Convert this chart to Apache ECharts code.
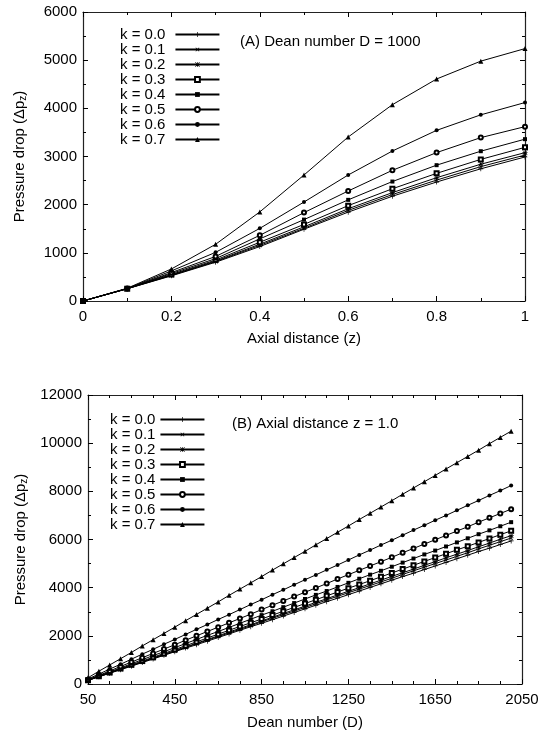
<!DOCTYPE html>
<html>
<head>
<meta charset="utf-8">
<script src="https://cdn.jsdelivr.net/npm/echarts@6/dist/echarts.min.js"></script>
<style>
  html, body { margin: 0; padding: 0; background: #fff; }
  #main { width: 543px; height: 734px; }
</style>
</head>
<body>
<div id="main"></div>
<script>
// legend names
let kNames = ['k = 0.0', 'k = 0.1', 'k = 0.2', 'k = 0.3', 'k = 0.4', 'k = 0.5', 'k = 0.6', 'k = 0.7']

// (A) Dean number D = 1000, pressure drop vs axial distance z
let zAxial = [0, 0.1, 0.2, 0.3, 0.4, 0.5, 0.6, 0.7, 0.8, 0.9, 1.0]
let axialK00 = [0, 254, 522, 805, 1130, 1490, 1845, 2175, 2470, 2745, 2990]
let axialK01 = [0, 255, 530, 818, 1155, 1510, 1880, 2210, 2510, 2790, 3030]
let axialK02 = [0, 255, 540, 830, 1180, 1540, 1915, 2250, 2560, 2840, 3080]
let axialK03 = [0, 256, 550, 850, 1220, 1590, 1980, 2330, 2650, 2940, 3190]
let axialK04 = [0, 257, 570, 880, 1290, 1690, 2100, 2480, 2820, 3110, 3360]
let axialK05 = [0, 258, 590, 925, 1364, 1835, 2284, 2713, 3081, 3392, 3620]
let axialK06 = [0, 260, 625, 1010, 1508, 2055, 2616, 3114, 3543, 3865, 4120]
let axialK07 = [0, 265, 665, 1177, 1850, 2616, 3405, 4076, 4609, 4980, 5240]

// (B) Axial distance z = 1.0, pressure drop vs Dean number
let deanNums = [50, 100, 150, 200, 250, 300, 350, 400, 450, 500, 550, 600, 650, 700, 750, 800, 850, 900, 950, 1000,
  1050, 1100, 1150, 1200, 1250, 1300, 1350, 1400, 1450, 1500, 1550, 1600, 1650, 1700, 1750, 1800, 1850, 1900, 1950, 2000]
let deanK00 = [150, 300, 450, 590, 740, 890, 1040, 1190, 1340, 1490, 1630, 1780, 1930, 2080, 2230, 2380, 2520, 2670, 2820, 2970,
  3120, 3270, 3420, 3560, 3710, 3860, 4010, 4160, 4310, 4460, 4600, 4750, 4900, 5050, 5200, 5350, 5500, 5640, 5790, 5940]
let deanK01 = [150, 300, 450, 610, 760, 910, 1060, 1210, 1360, 1520, 1670, 1820, 1970, 2120, 2270, 2420, 2580, 2730, 2880, 3030,
  3180, 3330, 3490, 3640, 3790, 3940, 4090, 4240, 4390, 4550, 4700, 4850, 5000, 5150, 5300, 5450, 5610, 5760, 5910, 6060]
let deanK02 = [150, 310, 460, 620, 770, 920, 1080, 1230, 1390, 1540, 1690, 1850, 2000, 2160, 2310, 2460, 2620, 2770, 2930, 3080,
  3230, 3390, 3540, 3700, 3850, 4000, 4160, 4310, 4470, 4620, 4770, 4930, 5080, 5240, 5390, 5540, 5700, 5850, 6010, 6160]
let deanK03 = [160, 320, 480, 640, 800, 950, 1110, 1270, 1430, 1590, 1750, 1910, 2070, 2230, 2390, 2540, 2700, 2860, 3020, 3180,
  3340, 3500, 3660, 3820, 3980, 4130, 4290, 4450, 4610, 4770, 4930, 5090, 5250, 5410, 5570, 5720, 5880, 6040, 6200, 6360]
let deanK04 = [170, 340, 500, 670, 840, 1010, 1180, 1340, 1510, 1680, 1850, 2020, 2180, 2350, 2520, 2690, 2860, 3020, 3190, 3360,
  3530, 3700, 3860, 4030, 4200, 4370, 4540, 4700, 4870, 5040, 5210, 5380, 5540, 5710, 5880, 6050, 6220, 6380, 6550, 6720]
let deanK05 = [180, 360, 540, 730, 910, 1090, 1270, 1450, 1630, 1820, 2000, 2180, 2360, 2540, 2720, 2900, 3090, 3270, 3450, 3630,
  3810, 3990, 4170, 4360, 4540, 4720, 4900, 5080, 5260, 5450, 5630, 5810, 5990, 6170, 6350, 6530, 6720, 6900, 7080, 7260]
let deanK06 = [210, 410, 620, 820, 1030, 1240, 1440, 1650, 1850, 2060, 2270, 2470, 2680, 2880, 3090, 3300, 3500, 3710, 3910, 4120,
  4330, 4530, 4740, 4940, 5150, 5360, 5560, 5770, 5970, 6180, 6390, 6590, 6800, 7000, 7210, 7420, 7620, 7830, 8030, 8240]
let deanK07 = [260, 530, 790, 1050, 1310, 1580, 1840, 2100, 2360, 2630, 2890, 3150, 3410, 3680, 3940, 4200, 4460, 4730, 4990, 5250,
  5510, 5780, 6040, 6300, 6560, 6830, 7090, 7350, 7610, 7880, 8140, 8400, 8660, 8930, 9190, 9450, 9710, 9980, 10240, 10500]

let axialRows = [axialK00, axialK01, axialK02, axialK03, axialK04, axialK05, axialK06, axialK07]
let deanRows = [deanK00, deanK01, deanK02, deanK03, deanK04, deanK05, deanK06, deanK07]

// gnuplot point types 1..9
let PLUS = 'path://M4.3,0H5.7V4.3H10V5.7H5.7V10H4.3V5.7H0V4.3H4.3Z'
let STAR = 'path://M4.4,0H5.6V10H4.4Z M0,4.4H10V5.6H0Z M0.8,0L10,9.2L9.2,10L0,0.8Z M9.2,0L10,0.8L0.8,10L0,9.2Z'
let marks = [
  { symbol: PLUS, size: 5, rotate: 0 },
  { symbol: PLUS, size: 5, rotate: 45 },
  { symbol: STAR, size: 5, rotate: 0 },
  { symbol: 'emptyRect', size: 4, rotate: 0 },
  { symbol: 'rect', size: 4, rotate: 0 },
  { symbol: 'emptyCircle', size: 4, rotate: 0 },
  { symbol: 'circle', size: 4, rotate: 0 },
  { symbol: 'triangle', size: 5, rotate: 0 }
]

let FONT = 'Liberation Sans'
let BLACK = '#000'

function makeSeries (rows, xs, axisIndex) {
  return rows.map(function (row, i) {
    return {
      name: kNames[i],
      type: 'line',
      xAxisIndex: axisIndex,
      yAxisIndex: axisIndex,
      data: row.map(function (v, j) { return [xs[j], v] }),
      symbol: marks[i].symbol,
      symbolSize: marks[i].size,
      symbolRotate: marks[i].rotate,
      color: BLACK,
      lineStyle: { color: BLACK, width: 1 },
      itemStyle: { color: BLACK, borderWidth: 1 },
      animation: false,
      emphasis: { disabled: true },
      z: 3 + i
    }
  })
}

function plain (v) { return String(v) }

// one axis pair per side, the mirror ones only carry ticks
function xAxisOf (grid, min, max, interval, minor, name, gap, mirror) {
  return {
    type: 'value', gridIndex: grid, min: min, max: max, interval: interval,
    position: mirror ? 'top' : 'bottom',
    name: mirror ? '' : name, nameLocation: 'middle', nameGap: gap,
    nameTextStyle: { fontFamily: FONT, fontSize: 15, color: BLACK },
    axisLine: { show: true, onZero: false, lineStyle: { color: '#222', width: 1.2 } },
    axisTick: { show: true, inside: true, length: 5, lineStyle: { color: BLACK } },
    minorTick: { show: true, splitNumber: minor, length: 3, lineStyle: { color: BLACK } },
    axisLabel: { show: !mirror, margin: 8, fontFamily: FONT, fontSize: 15, color: BLACK, formatter: plain },
    splitLine: { show: false }
  }
}

function yAxisOf (grid, min, max, interval, minor, gap, mirror) {
  return {
    type: 'value', gridIndex: grid, min: min, max: max, interval: interval,
    position: mirror ? 'right' : 'left',
    name: mirror ? '' : 'Pressure drop (Δp{sub|z})', nameLocation: 'middle', nameGap: gap, nameRotate: 90,
    nameTextStyle: {
      fontFamily: FONT, fontSize: 15, color: BLACK,
      rich: { sub: { fontFamily: FONT, fontSize: 10, color: BLACK, padding: [7, 0, 0, 0] } }
    },
    axisLine: { show: true, onZero: false, lineStyle: { color: '#222', width: 1.2 } },
    axisTick: { show: true, inside: true, length: 5, lineStyle: { color: BLACK } },
    minorTick: { show: true, splitNumber: minor, length: 3, lineStyle: { color: BLACK } },
    axisLabel: { show: !mirror, margin: 6, fontFamily: FONT, fontSize: 15, color: BLACK, formatter: plain },
    splitLine: { show: false }
  }
}

function legendOf (left, top, pad) {
  return {
    data: kNames,
    orient: 'vertical',
    align: 'right',
    left: left,
    top: top,
    padding: 0,
    itemWidth: 44,
    itemHeight: 6,
    itemGap: 0,
    selectedMode: false,
    textStyle: { fontFamily: FONT, fontSize: 15, lineHeight: 15, color: BLACK, padding: [0, pad, 0, 0] }
  }
}

let myChart = echarts.init(document.getElementById('main'), null, { renderer: 'canvas' })
myChart.setOption({
  backgroundColor: '#fff',
  animation: false,
  grid: [
    { left: 83, top: 12, width: 442, height: 289 },
    { left: 88, top: 395, width: 434, height: 289 }
  ],
  xAxis: [
    xAxisOf(0, 0, 1, 0.2, 2, 'Axial distance (z)', 30, false),
    xAxisOf(1, 50, 2050, 400, 4, 'Dean number (D)', 31, false),
    xAxisOf(0, 0, 1, 0.2, 2, '', 0, true),
    xAxisOf(1, 50, 2050, 400, 4, '', 0, true)
  ],
  yAxis: [
    yAxisOf(0, 0, 6000, 1000, 2, 55, false),
    yAxisOf(1, 0, 12000, 2000, 2, 57, false),
    yAxisOf(0, 0, 6000, 1000, 2, 0, true),
    yAxisOf(1, 0, 12000, 2000, 2, 0, true)
  ],
  legend: [
    legendOf(120, 27, 5),
    legendOf(110, 412, 0)
  ],
  graphic: [
    { type: 'text', left: 240, top: 34, style: { text: '(A) Dean number D = 1000', font: '15px "Liberation Sans"', fill: BLACK } },
    { type: 'text', left: 232, top: 416, style: { text: '(B) Axial distance z = 1.0', font: '15px "Liberation Sans"', fill: BLACK } }
  ],
  series: makeSeries(axialRows, zAxial, 0).concat(makeSeries(deanRows, deanNums, 1))
})
</script>
</body>
</html>
